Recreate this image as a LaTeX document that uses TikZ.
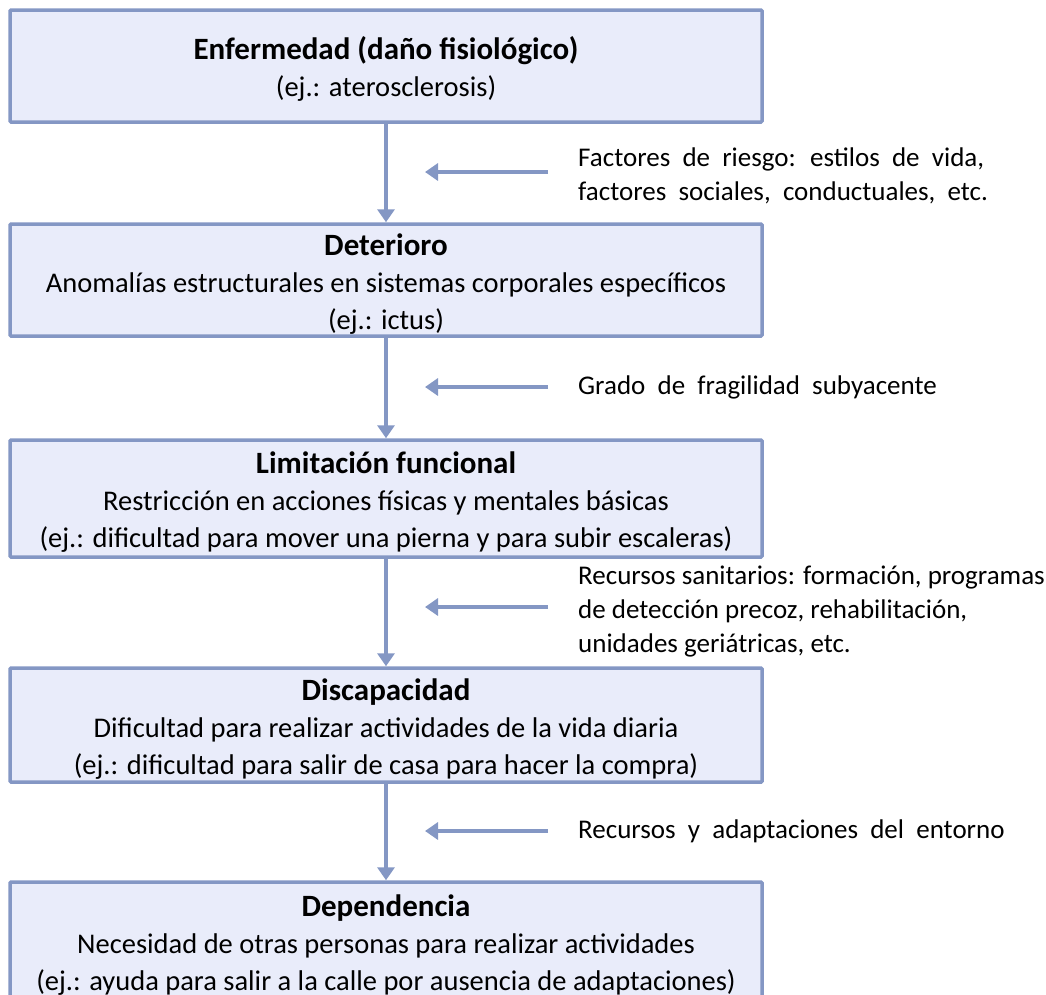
\documentclass[tikz,border=0pt]{standalone}
\usepackage{fontspec}
\setmainfont{Carlito}
\usetikzlibrary{arrows.meta}
\definecolor{boxfill}{HTML}{E9ECFA}
\definecolor{boxline}{HTML}{8497C4}
% bold heading line of a stage, with a fixed top strut
\newcommand{\stagetitle}[1]{{\fontsize{31}{37}\selectfont\bfseries\rule{0pt}{29pt}#1}}
\tikzset{
  stage/.style={draw=boxline, line width=3.5pt, fill=boxfill, rounded corners=1pt,
    minimum width=752pt, inner sep=0pt, align=center,
    font=\fontsize{28.5}{37}\selectfont},
  flow/.style={draw=boxline, line width=3.5pt,
    -{Triangle[width=17pt,length=13pt]}},
  factor/.style={anchor=west, align=left, inner sep=0pt,
    font=\fontsize{27}{34}\selectfont},
  wide/.style={execute at begin node={\spaceskip=12.2pt\relax}},
}
\begin{document}
\begin{tikzpicture}[x=1pt,y=-1pt]
\useasboundingbox (0,0) rectangle (1046,994);

% stages of the disablement process
\node[stage, minimum height=112pt] (enf) at (386,66)
  {\stagetitle{Enfermedad (daño fisiológico)}\\(ej.: aterosclerosis)};
\node[stage, minimum height=112pt] (det) at (386,280)
  {\stagetitle{Deterioro}\\Anomalías estructurales en sistemas corporales específicos\\(ej.: ictus)};
\node[stage, minimum height=117pt] (lim) at (386,498.5)
  {\stagetitle{Limitación funcional}\\Restricción en acciones físicas y mentales básicas\\(ej.: dificultad para mover una pierna y para subir escaleras)};
\node[stage, minimum height=114pt] (dis) at (386,725)
  {\stagetitle{Discapacidad}\\Dificultad para realizar actividades de la vida diaria\\(ej.: dificultad para salir de casa para hacer la compra)};
\node[stage, minimum height=118pt] (dep) at (386,941)
  {\stagetitle{Dependencia}\\Necesidad de otras personas para realizar actividades\\(ej.: ayuda para salir a la calle por ausencia de adaptaciones)};

% main flow
\draw[flow] (enf) -- (det);
\draw[flow] (det) -- (lim);
\draw[flow] (lim) -- (dis);
\draw[flow] (dis) -- (dep);

% modifying factors
\node[factor, wide] (f1) at (578,176) {Factores de riesgo: estilos de vida,\\factores sociales, conductuales, etc.};
\node[factor, wide] (f2) at (578,387) {Grado de fragilidad subyacente};
\node[factor] (f3) at (578,612) {Recursos sanitarios: formación, programas\\de detección precoz, rehabilitación,\\unidades geriátricas, etc.};
\node[factor, wide] (f4) at (578,831) {Recursos y adaptaciones del entorno};

\coordinate (s1) at (548,172);  \coordinate (a1) at (425,172);
\coordinate (s2) at (548,387);  \coordinate (a2) at (425,387);
\coordinate (s3) at (548,607);  \coordinate (a3) at (425,607);
\coordinate (s4) at (548,831);  \coordinate (a4) at (425,831);
\draw[flow] (s1) -- (a1);
\draw[flow] (s2) -- (a2);
\draw[flow] (s3) -- (a3);
\draw[flow] (s4) -- (a4);
\end{tikzpicture}
\end{document}
